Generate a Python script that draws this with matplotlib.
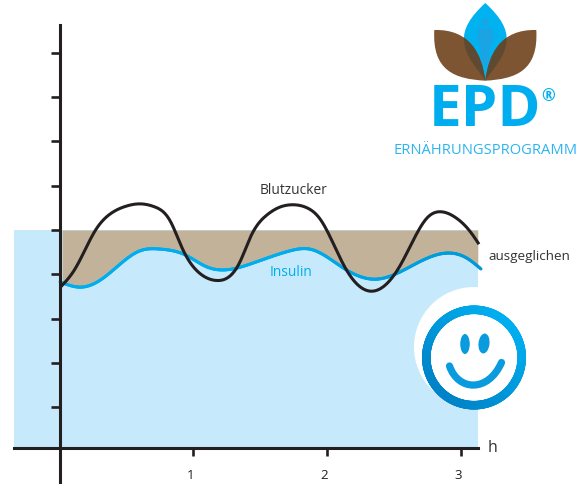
import numpy as np
import matplotlib
matplotlib.use("Agg")
import matplotlib.pyplot as plt
from matplotlib.collections import LineCollection
from matplotlib.colors import LinearSegmentedColormap
from matplotlib.patches import Circle, Ellipse, PathPatch
from matplotlib.path import Path
from matplotlib.transforms import ScaledTranslation

# ---- data ----
blutzucker_x = [0.004, 0.116, 0.266, 0.378, 0.49, 0.602, 0.714, 0.827, 0.921, 1.05, 1.178, 1.275,
                1.35, 1.43, 1.552, 1.635, 1.74, 1.852, 1.949, 2.135, 2.323, 2.547, 2.652, 2.749,
                2.861, 2.973, 3.071, 3.138]
blutzucker_y = [3.70, 4.12, 4.98, 5.36, 5.53, 5.59, 5.52, 5.21, 4.57, 4.02, 3.86, 3.96,
                4.28, 4.85, 5.34, 5.50, 5.57, 5.50, 5.25, 4.16, 3.62, 4.19, 4.80, 5.27,
                5.41, 5.26, 4.97, 4.68]
insulin_x = [0.004, 0.153, 0.29, 0.49, 0.602, 0.75, 0.939, 1.10, 1.24, 1.425, 1.725, 1.87,
             2.135, 2.37, 2.66, 2.907, 3.05, 3.153]
insulin_y = [3.83, 3.71, 3.84, 4.32, 4.53, 4.57, 4.44, 4.17, 4.10, 4.23, 4.53, 4.57,
             4.12, 3.89, 4.23, 4.48, 4.36, 4.12]
level_y = 5
x_ticks = [1, 2, 3]
y_ticks = [1, 2, 3, 4, 5, 6, 7, 8, 9]

BLUE = "#00aeef"
INK = "#231f20"
TEXT_FONT = "Open Sans"


def smooth(xs, ys, n=400):
    """Natural cubic spline drawn through the read points."""
    x, y = np.asarray(xs, float), np.asarray(ys, float)
    h = np.diff(x)
    A = np.zeros((len(x), len(x)))
    b = np.zeros(len(x))
    A[0, 0] = A[-1, -1] = 1
    for i in range(1, len(x) - 1):
        A[i, i - 1], A[i, i], A[i, i + 1] = h[i - 1], 2 * (h[i - 1] + h[i]), h[i]
        b[i] = 6 * ((y[i + 1] - y[i]) / h[i] - (y[i] - y[i - 1]) / h[i - 1])
    m = np.linalg.solve(A, b)
    t = np.linspace(x[0], x[-1], n)
    k = np.clip(np.searchsorted(x, t) - 1, 0, len(h) - 1)
    a = (x[k + 1] - t) / h[k]
    c = (t - x[k]) / h[k]
    v = a * y[k] + c * y[k + 1] + ((a ** 3 - a) * m[k] + (c ** 3 - c) * m[k + 1]) * h[k] ** 2 / 6
    return t, v


W, H = 577, 485
fig = plt.figure(figsize=(W / 100, H / 100), dpi=100)
ax = fig.add_axes([0, 0, 1, 1])
PX, PY = 133.67, 44.3
ax.set_xlim(-59.5 / PX, (W - 59.5) / PX)
ax.set_ylim((452.5 - H) / PY, 452.5 / PY)
ax.patch.set_alpha(0)

base_y = 0.09
left_x, right_x = -0.341, 3.131

# panels
bx, by = smooth(blutzucker_x, blutzucker_y)
ix, iy = smooth(insulin_x, insulin_y)
ax.fill_between([left_x, right_x], base_y, level_y, color="#c6e9fb", lw=0, zorder=1)
mask = (ix >= 0.012) & (ix <= right_x)
ax.fill_between(ix[mask], iy[mask], level_y, color="#c2b29a", lw=0, zorder=2)

# curves
pts = np.column_stack([ix, iy])
segs = np.stack([pts[:-1], pts[1:]], axis=1)
line_cmap = LinearSegmentedColormap.from_list("ins", ["#00aeef", "#00aeef", "#0098da"])
lc = LineCollection(segs, cmap=line_cmap, array=ix[:-1], linewidths=2.2, capstyle="round",
                    joinstyle="round", zorder=3)
ax.add_collection(lc)
ax.plot(bx, by, color=INK, lw=2.2, solid_capstyle="butt", zorder=4)

# axes
for side in ("top", "right"):
    ax.spines[side].set_visible(False)
ax.spines["left"].set_position(("data", 0))
ax.spines["bottom"].set_position(("data", base_y))
ax.spines["left"].set_bounds((452.5 - 484) / PY, (452.5 - 26) / PY)
ax.spines["bottom"].set_bounds(left_x, right_x)
for side in ("left", "bottom"):
    ax.spines[side].set_linewidth(2.2)
    ax.spines[side].set_color(INK)
    ax.spines[side].set_zorder(5)
ax.set_yticks(y_ticks)
ax.set_yticklabels([])
ax.set_xticks(x_ticks)
ax.set_xticklabels([str(v) for v in x_ticks], fontsize=9.5, color=INK, family=TEXT_FONT)
ax.tick_params(axis="y", length=6.5, width=1.9, color=INK, direction="out")
ax.tick_params(axis="x", length=6, width=1.9, color=INK, direction="out", pad=9)
shift = ScaledTranslation(-2.5 / 100, 0, fig.dpi_scale_trans)
for lab in ax.get_xticklabels():
    lab.set_transform(lab.get_transform() + shift)

# series labels
ax.text((293.5 - 59.5) / PX, (452.5 - 190) / PY, "Blutzucker", ha="center", va="center",
        fontsize=9.9, color="#333333", family=TEXT_FONT, zorder=6)
ax.text((290.5 - 59.5) / PX, (452.5 - 272) / PY, "Insulin", ha="center", va="center",
        fontsize=9.9, color=BLUE, family=TEXT_FONT, zorder=6)
ax.text((488 - 59.5) / PX, (452.5 - 256.5) / PY, "ausgeglichen", ha="left", va="center",
        fontsize=9.7, color="#333333", family=TEXT_FONT, zorder=6)
ax.text((488 - 59.5) / PX, (452.5 - 448) / PY, "h", ha="left", va="center",
        fontsize=11.5, color="#333333", family=TEXT_FONT, zorder=6)

# ---- overlay in pixel coordinates: smiley and logo ----
ov = fig.add_axes([0, 0, 1, 1], zorder=3)
ov.set_xlim(0, W)
ov.set_ylim(H, 0)
ov.axis("off")

ov.add_patch(Circle((474, 348), 60, fc="white", ec="none", zorder=1))

# smiley ring, shaded from lower left to upper right
ang = np.linspace(0, 2 * np.pi, 361)
ring_xy = np.column_stack([474 + 47.7 * np.cos(ang), 358.5 + 47.7 * np.sin(ang)])
ring_segs = np.stack([ring_xy[:-1], ring_xy[1:]], axis=1)
ring_cmap = LinearSegmentedColormap.from_list("ring", ["#0083c8", "#00aeef"])
shade = np.cos(ang[:-1] + np.pi / 4)  # largest toward the upper right on the flipped y axis
ov.add_collection(LineCollection(ring_segs, cmap=ring_cmap, array=shade, linewidths=6.2,
                                 capstyle="round", zorder=2))
ov.add_patch(Ellipse((465, 345), 9.5, 20, fc="#0a9ade", ec="none", zorder=3))
ov.add_patch(Ellipse((484, 344.5), 11, 20, angle=6, fc="#0a9ade", ec="none", zorder=3))
mouth = Path([(449.5, 367), (458, 392), (488, 394), (501.5, 363.5)],
             [Path.MOVETO, Path.CURVE4, Path.CURVE4, Path.CURVE4])
ov.add_patch(PathPatch(mouth, fc="none", ec="#0a9ade", lw=5.2, capstyle="round", zorder=3))

M = 970.6


def mirrored(points):
    return [(M - a, b) for a, b in points]


CC = [Path.MOVETO] + [Path.CURVE4] * 6 + [Path.CLOSEPOLY]
drop_left = [(485.3, 4), (470, 18), (463, 30), (464, 42), (465, 58), (478, 70), (485.3, 81.7)]
drop_pts = drop_left + mirrored(drop_left[-2::-1])
drop_codes = [Path.MOVETO] + [Path.CURVE4] * 12 + [Path.CLOSEPOLY]
drop_path = Path(drop_pts + [(485.3, 4)], drop_codes)
ov.add_patch(PathPatch(drop_path, fc="#00b2ef", ec="none", zorder=4))
# figure inside the drop
ov.add_patch(Circle((485.3, 23), 3.6, fc="#1ba4e4", ec="none", zorder=4.2))
body = Path([(478, 29), (492.6, 29), (494, 42), (490, 48), (488.5, 66), (482, 66), (480.5, 48),
             (476.6, 42), (478, 29)],
            [Path.MOVETO] + [Path.LINETO] * 7 + [Path.CLOSEPOLY])
ov.add_patch(PathPatch(body, fc="#1ba4e4", ec="none", zorder=4.2))

leaf_l = [(434.3, 31), (470, 30), (482, 55), (485.3, 81.7), (455, 80), (432, 72), (434.3, 31)]
for pts_ in (leaf_l, mirrored(leaf_l)):
    leaf = Path(pts_ + [pts_[0]], CC)
    ov.add_patch(PathPatch(leaf, fc="#7d5533", ec="none", zorder=5))
    over = PathPatch(leaf, fc="#5f4a31", ec="none", zorder=6)
    ov.add_patch(over)
    over.set_clip_path(drop_path, ov.transData)

ov.text(485, 111, "EPD", ha="center", va="center", fontsize=42, fontweight="bold",
        color=BLUE, family=TEXT_FONT, zorder=7)
ov.text(548, 96, "®", ha="center", va="center", fontsize=12, fontweight="bold",
        color=BLUE, family=TEXT_FONT, zorder=7)
ov.text(485.5, 151, "ERNÄHRUNGSPROGRAMM", ha="center", va="center", fontsize=10.6,
        color="#2cb5ee", family=TEXT_FONT, zorder=7)

fig.savefig("out.png", dpi=100)
